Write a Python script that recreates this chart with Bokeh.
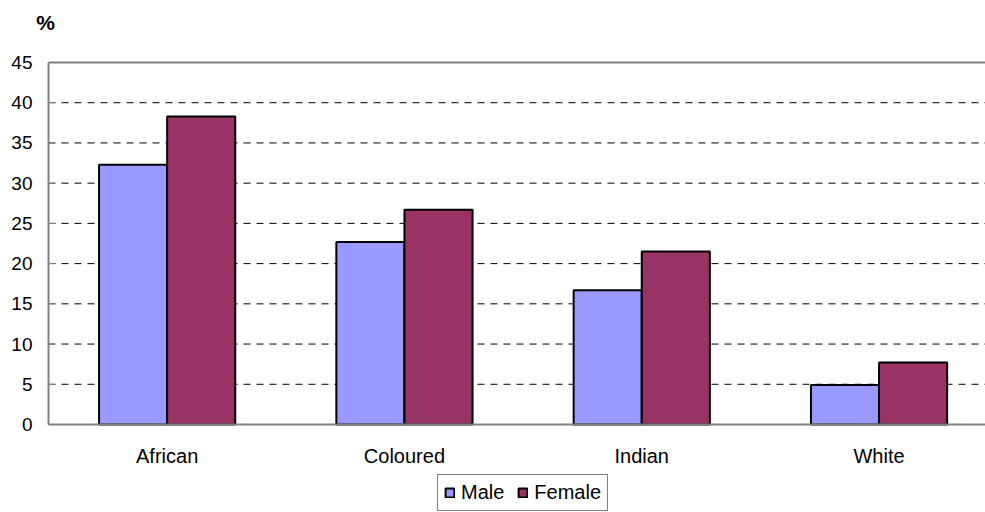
from bokeh.plotting import figure
from bokeh.models import (Range1d, FixedTicker, LinearAxis, Legend, LegendItem,
                          Label, ColumnDataSource)
from bokeh.embed import file_html
from bokeh.resources import INLINE

categories = ["African", "Coloured", "Indian", "White"]
male = [32.3, 22.7, 16.7, 4.9]
female = [38.3, 26.7, 21.5, 7.7]
y_ticks = [0, 5, 10, 15, 20, 25, 30, 35, 40, 45]

FONT = "Liberation Sans"
BAR_W = 0.287
idx = list(range(len(categories)))
centers = [i + 0.5 for i in idx]

W, H = 985, 512
PLOT_L, PLOT_T, PLOT_B = 48, 62, 424      # pixel edges of the chart area
UNIT_X = 237.3                            # pixels per category
Y_MAX = y_ticks[-1]
UNIT_Y = (PLOT_B - PLOT_T) / Y_MAX
x_end = (W - PLOT_L) / UNIT_X

src = ColumnDataSource(dict(
    xm=[c - BAR_W / 2 for c in centers],
    xf=[c + BAR_W / 2 for c in centers],
    male=male, female=female,
))

p = figure(width=W, height=H, output_backend="svg", toolbar_location=None,
           x_range=Range1d(-PLOT_L / UNIT_X, x_end),
           y_range=Range1d(-(H - PLOT_B) / UNIT_Y, Y_MAX + PLOT_T / UNIT_Y),
           min_border=0, x_axis_location=None, y_axis_location=None)
p.outline_line_color = None
p.background_fill_color = "white"
p.border_fill_color = "white"
p.xgrid.visible = False
p.ygrid.visible = False

# dashed grid lines (5..40) and top border
grid_vals = y_ticks[1:-1]
p.segment(x0=[0] * len(grid_vals), x1=[x_end] * len(grid_vals),
          y0=grid_vals, y1=grid_vals, line_color="black", line_width=1,
          line_dash="7 6")
p.segment(x0=[0], x1=[x_end], y0=[Y_MAX], y1=[Y_MAX],
          line_color="#808080", line_width=2)

r1 = p.vbar(x="xm", top="male", width=BAR_W, source=src,
            fill_color="#9999FF", line_color="black", line_width=2)
r2 = p.vbar(x="xf", top="female", width=BAR_W, source=src,
            fill_color="#993366", line_color="black", line_width=2)

# y axis
yax = LinearAxis(ticker=FixedTicker(ticks=y_ticks), fixed_location=0,
                 bounds=(0, Y_MAX))
yax.axis_line_color = "#808080"
yax.axis_line_width = 2
yax.major_tick_in = 6
yax.major_tick_out = 0
yax.major_tick_line_color = "#808080"
yax.minor_tick_line_color = None
yax.major_label_standoff = 16
yax.major_label_text_font = FONT
yax.major_label_text_font_size = "19px"
yax.major_label_text_color = "black"
p.add_layout(yax, "left")

# x axis
xax = LinearAxis(ticker=FixedTicker(ticks=centers), fixed_location=0,
                 bounds=(0, x_end),
                 major_label_overrides={c: n for c, n in zip(centers, categories)})
xax.axis_line_color = "#808080"
xax.axis_line_width = 2
xax.major_tick_in = 0
xax.major_tick_out = 0
xax.minor_tick_line_color = None
xax.major_label_standoff = 20
xax.major_label_text_font = FONT
xax.major_label_text_font_size = "20px"
xax.major_label_text_color = "black"
p.add_layout(xax, "below")

# "%" label
p.add_layout(Label(x=45, y=H - 22, x_units="screen", y_units="screen", text="%",
                   text_font=FONT, text_font_size="21px", text_font_style="bold",
                   text_align="center", text_baseline="middle", text_color="black"))

legend = Legend(items=[LegendItem(label="Male", renderers=[r1]),
                       LegendItem(label="Female", renderers=[r2])],
                orientation="horizontal", location=(437, 1))
legend.label_text_font = FONT
legend.label_text_font_size = "20px"
legend.label_text_color = "black"
legend.glyph_width = 11
legend.glyph_height = 11
legend.label_standoff = 6
legend.spacing = 13
legend.padding = 6
legend.margin = 0
legend.label_height = 18
legend.border_line_color = "black"
legend.border_line_width = 1
legend.background_fill_color = "white"
legend.background_fill_alpha = 1
p.add_layout(legend, "center")

open("out.html", "w").write(file_html(p, INLINE))
